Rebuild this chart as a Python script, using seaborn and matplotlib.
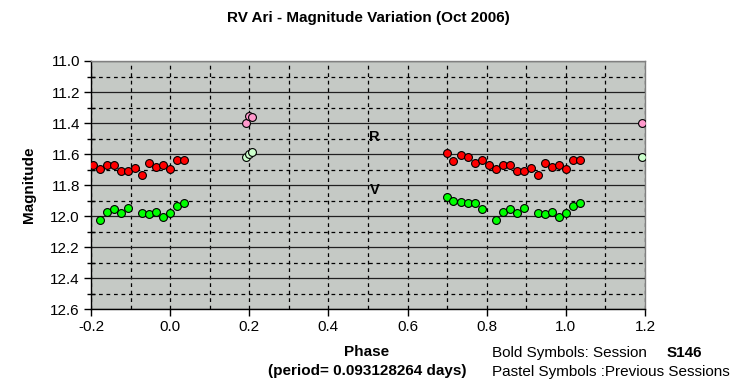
import numpy as np
import pandas as pd
import matplotlib
matplotlib.use("Agg")
import matplotlib.pyplot as plt
from matplotlib.ticker import MultipleLocator, FormatStrFormatter
import seaborn as sns

# session S146 data (phase, R mag, V mag)
phase = [0.699, 0.716, 0.734, 0.752, 0.770, 0.787, 0.805, 0.823, 0.841, 0.858,
         0.876, 0.894, 0.911, 0.929, 0.947, 0.965, 0.982, 1.000, 1.018, 1.035]
r_mag = [11.591, 11.643, 11.609, 11.622, 11.660, 11.637, 11.674, 11.696, 11.669, 11.669,
         11.710, 11.710, 11.688, 11.734, 11.656, 11.682, 11.669, 11.695, 11.637, 11.637]
v_mag = [11.875, 11.901, 11.908, 11.914, 11.918, 11.953, np.nan, 12.026, 11.972, 11.953,
         11.979, 11.946, np.nan, 11.979, 11.987, 11.972, 12.006, 11.979, 11.933, 11.918]

# previous sessions
prev_phase = [0.192, 0.200, 0.207, 1.192]
prev_r = [11.400, 11.355, 11.360, 11.400]
prev_v = [11.620, 11.600, 11.590, 11.617]

sns.set_style("white")
plt.rcParams['font.family'] = ['Liberation Sans', 'DejaVu Sans']
plt.rcParams['text.color'] = 'black'
plt.rcParams['axes.labelcolor'] = 'black'
plt.rcParams['xtick.color'] = 'black'
plt.rcParams['ytick.color'] = 'black'

df = pd.DataFrame({"phase": phase, "R": r_mag, "V": v_mag})
# phases past 0.8 are also drawn one cycle earlier
wrap = df[df["phase"] >= 0.8].copy()
wrap["phase"] = wrap["phase"] - 1.0
df = pd.concat([wrap, df], ignore_index=True)
prev = pd.DataFrame({"phase": prev_phase, "R": prev_r, "V": prev_v})

fig = plt.figure(figsize=(7.49, 3.87), dpi=100)
ax = fig.add_axes([91/749, 1 - 309/387, (645 - 91)/749, (309 - 61)/387])
ax.set_facecolor("#C5C9C5")

ax.set_xlim(-0.2, 1.2)
ax.set_ylim(12.6, 11.0)
ax.xaxis.set_major_locator(MultipleLocator(0.2))
ax.xaxis.set_minor_locator(MultipleLocator(0.1))
ax.yaxis.set_major_locator(MultipleLocator(0.2))
ax.yaxis.set_minor_locator(MultipleLocator(0.1))
ax.xaxis.set_major_formatter(FormatStrFormatter("%.1f"))
ax.yaxis.set_major_formatter(FormatStrFormatter("%.1f"))

ax.grid(axis="x", which="both", color="black", linestyle=(0, (3, 3)), linewidth=0.9)
ax.grid(axis="y", which="major", color="#202020", linestyle="-", linewidth=0.9)
ax.grid(axis="y", which="minor", color="black", linestyle=(0, (3, 3)), linewidth=0.9)
ax.set_axisbelow(True)

mk = dict(s=32, edgecolor="black", linewidth=0.8, marker="o", zorder=3, legend=False, clip_on=True)
sns.scatterplot(data=prev, x="phase", y="R", color="#FF99CC", ax=ax, **mk)
sns.scatterplot(data=prev, x="phase", y="V", color="#CCFFCC", ax=ax, **mk)
sns.scatterplot(data=df, x="phase", y="R", color="#FF0000", ax=ax, **mk)
sns.scatterplot(data=df, x="phase", y="V", color="#00FF00", ax=ax, **mk)

ax.text(0.516, 11.49, "R", fontsize=10.5, fontweight="bold", ha="center", va="center")
ax.text(0.516, 11.83, "V", fontsize=10.5, fontweight="bold", ha="center", va="center")

for s in ["left", "bottom"]:
    ax.spines[s].set_color("black")
    ax.spines[s].set_linewidth(1.0)
for s in ["top", "right"]:
    ax.spines[s].set_color("#808080")
    ax.spines[s].set_linewidth(1.0)

ax.tick_params(axis="both", which="major", direction="out", length=5, width=1,
               labelsize=11, color="black", pad=3, left=True, bottom=True)
ax.tick_params(axis="y", which="minor", direction="inout", length=6, width=1, left=True)
ax.tick_params(axis="x", which="minor", length=0)

ax.set_xlabel("")
ax.set_ylabel("Magnitude", fontsize=11, fontweight="bold", labelpad=10)
ax.set_title("RV Ari - Magnitude Variation (Oct 2006)", fontsize=11, fontweight="bold", pad=28)

fig.text(367/749, 1 - 352/387, "Phase", fontsize=11, fontweight="bold", ha="center", va="center")
fig.text(367/749, 1 - 371/387, "(period= 0.093128264 days)", fontsize=11, fontweight="bold",
         ha="center", va="center")
fig.text(492/749, 1 - 353/387, "Bold Symbols: Session", fontsize=11, ha="left", va="center")
fig.text(667/749, 1 - 353/387, "S146", fontsize=11, fontweight="bold", ha="left", va="center")
fig.text(492/749, 1 - 372/387, "Pastel Symbols :Previous Sessions", fontsize=11, ha="left", va="center")

fig.savefig("out.png", dpi=100, facecolor="white")
